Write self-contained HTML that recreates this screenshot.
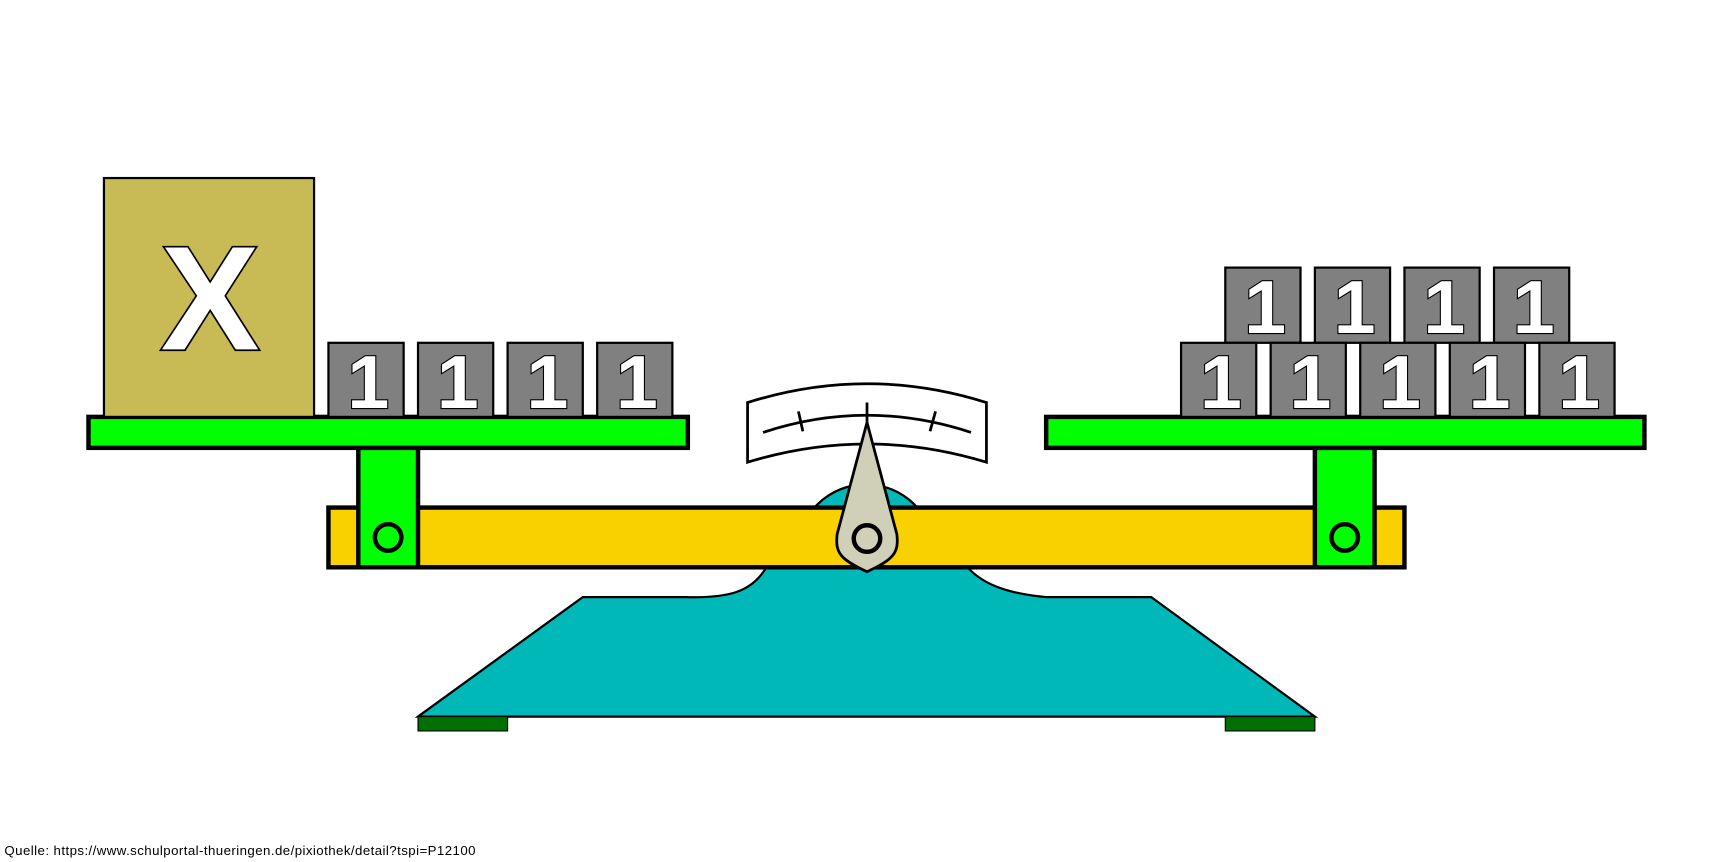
<!DOCTYPE html>
<html><head><meta charset="utf-8"><style>
html,body{margin:0;padding:0;background:#fff;}
svg{display:block;}
.n{font-family:"Liberation Sans",Arial,sans-serif;font-weight:bold;fill:#fff;stroke:#000;stroke-width:2;paint-order:stroke;text-anchor:middle;}
</style></head><body>
<svg width="1734" height="862" viewBox="0 0 1568 779.5" preserveAspectRatio="none" xmlns="http://www.w3.org/2000/svg">
<rect width="1568" height="780" fill="#fff"/>
<circle cx="783" cy="500" r="62" fill="#00b8b8" stroke="#000" stroke-width="2"/>
<path d="M378,648 L527,540 L620,540 C660,541 680,535 693,513 L875,513 C890,530 915,537 946,540 L1041,540 L1189,648 Z" fill="#00b8b8" stroke="#000" stroke-width="2"/>
<rect x="378" y="648" width="81" height="13" fill="#007000" stroke="#000" stroke-width="1"/>
<rect x="1108" y="648" width="81" height="13" fill="#007000" stroke="#000" stroke-width="1"/>
<rect x="297" y="459" width="973" height="54" fill="#f9d000" stroke="#000" stroke-width="4"/>
<rect x="324" y="405" width="54" height="108" fill="#00ff00" stroke="#000" stroke-width="4"/>
<rect x="1189" y="405" width="54" height="108" fill="#00ff00" stroke="#000" stroke-width="4"/>
<circle cx="351" cy="486" r="12" fill="#00ff00" stroke="#000" stroke-width="4"/>
<circle cx="1216" cy="486" r="12" fill="#00ff00" stroke="#000" stroke-width="4"/>
<rect x="80" y="377" width="542" height="28" fill="#00ff00" stroke="#000" stroke-width="4"/>
<rect x="946" y="377" width="541" height="28" fill="#00ff00" stroke="#000" stroke-width="4"/>
<rect x="94" y="161" width="190" height="216" fill="#c8bb55" stroke="#000" stroke-width="2"/>
<text x="190" y="316" class="n" font-size="134" style="stroke-width:3">X</text>
<g fill="#808080" stroke="#000" stroke-width="2">
<rect x="297" y="310" width="68" height="67"/><rect x="378" y="310" width="68" height="67"/><rect x="459" y="310" width="68" height="67"/><rect x="540" y="310" width="68" height="67"/>
<rect x="1108" y="242" width="68" height="68"/><rect x="1189" y="242" width="68" height="68"/><rect x="1270" y="242" width="68" height="68"/><rect x="1351" y="242" width="68" height="68"/>
<rect x="1068" y="310" width="68" height="67"/><rect x="1149" y="310" width="68" height="67"/><rect x="1230" y="310" width="68" height="67"/><rect x="1311" y="310" width="68" height="67"/><rect x="1392" y="310" width="68" height="67"/>
</g>
<g class="n" font-size="68">
<text x="333" y="369">1</text><text x="414" y="369">1</text><text x="495" y="369">1</text><text x="576" y="369">1</text>
<text x="1144" y="301">1</text><text x="1225" y="301">1</text><text x="1306" y="301">1</text><text x="1387" y="301">1</text>
<text x="1104" y="369">1</text><text x="1185" y="369">1</text><text x="1266" y="369">1</text><text x="1347" y="369">1</text><text x="1428" y="369">1</text>
</g>
<path d="M676,364 Q784,330 892,364 L892,418 Q784,385 676,418 Z" fill="#fff" stroke="#000" stroke-width="2.5"/>
<path d="M690,391 Q784,360 878,391" fill="none" stroke="#000" stroke-width="2.5"/>
<line x1="722" y1="372" x2="726" y2="390" stroke="#000" stroke-width="2.5"/>
<line x1="846" y1="372" x2="841" y2="390" stroke="#000" stroke-width="2.5"/>
<line x1="784" y1="364" x2="784" y2="385" stroke="#000" stroke-width="2.5"/>
<path d="M784,382 L757,483 C755,500 760,506 784,517 C808,506 813,500 811,483 Z" fill="#d0d0b8" stroke="#000" stroke-width="2.5"/>
<circle cx="784" cy="487" r="12" fill="#d0d0b8" stroke="#000" stroke-width="4"/>
<text x="4" y="773" font-family="Liberation Sans,sans-serif" font-size="12" textLength="426" fill="#000">Quelle: https://www.schulportal-thueringen.de/pixiothek/detail?tspi=P12100</text>
</svg>
</body></html>
